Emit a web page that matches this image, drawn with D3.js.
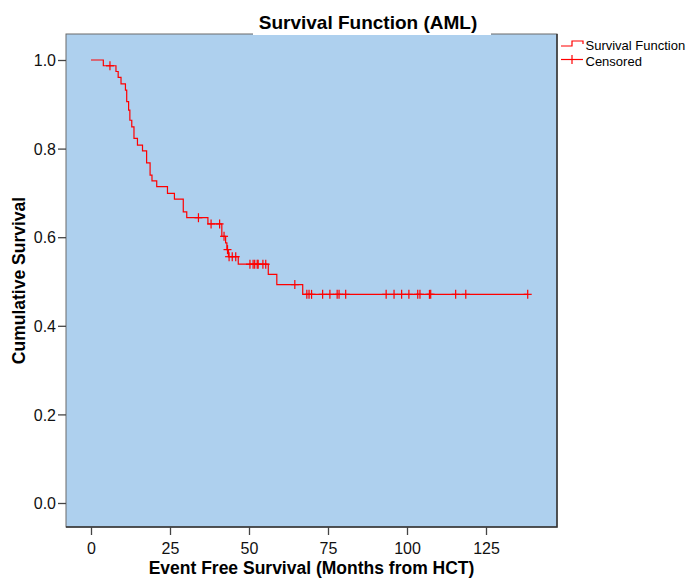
<!DOCTYPE html>
<html>
<head>
<meta charset="utf-8">
<script src="https://cdn.jsdelivr.net/npm/d3@7/dist/d3.min.js"></script>
<style>
  html, body { margin: 0; padding: 0; background: #fff; }
  svg { display: block; font-family: "Liberation Sans", Arial, sans-serif; }
</style>
</head>
<body>
<svg id="chart" width="691" height="579"></svg>
<script>
// Kaplan-Meier step data (event times in months, survival after each step)
const stepTimes = [0, 3.9, 7.9, 8.6, 9.5, 10.9, 11.3, 11.9, 12.3, 12.9, 13.6, 14.7, 16.3, 17.6, 18.7, 19.3, 20.8, 24.2, 26.4, 29.2, 30.3, 37.0, 41.4, 42.6, 43.0, 43.5, 46.6, 56.1, 58.8, 67.0];
const stepSurv  = [1.0, 0.987, 0.974, 0.961, 0.946, 0.932, 0.906, 0.887, 0.864, 0.849, 0.823, 0.808, 0.795, 0.768, 0.740, 0.727, 0.714, 0.699, 0.686, 0.657, 0.644, 0.630, 0.602, 0.587, 0.572, 0.556, 0.539, 0.516, 0.493, 0.471];
// Censored observation times (months)
const censorTimes = [6.0, 34.0, 38.0, 40.7, 42.1, 43.2, 43.7, 44.7, 45.8, 50.3, 51.3, 51.8, 52.6, 52.9, 54.4, 55.3, 64.5, 68.3, 69.0, 69.8, 73.3, 75.6, 77.9, 78.5, 80.6, 93.4, 95.9, 98.3, 100.6, 103.4, 104.1, 107.1, 107.5, 115.4, 118.6, 138.2];
const xTicks = [0, 25, 50, 75, 100, 125];
const yTicks = [0.0, 0.2, 0.4, 0.6, 0.8, 1.0];
const titleText = "Survival Function (AML)";
const xLabel = "Event Free Survival (Months from HCT)";
const yLabel = "Cumulative Survival";
const legendItems = ["Survival Function", "Censored"];

const svg = d3.select("#chart");
const frame = {left: 66, top: 34, right: 557, bottom: 527};
const x = d3.scaleLinear().domain([0, 125]).range([91, 486]);
const y = d3.scaleLinear().domain([0, 1]).range([503, 60]);
const red = "#ff0000";

// plot background
svg.append("rect")
  .attr("x", frame.left).attr("y", frame.top)
  .attr("width", frame.right - frame.left).attr("height", frame.bottom - frame.top)
  .attr("fill", "#aed0ee").attr("stroke", "#6a6a6a").attr("stroke-width", 1);
svg.append("path")
  .attr("d", `M${frame.right},${frame.top} V${frame.bottom} H${frame.left}`)
  .attr("fill", "none").attr("stroke", "#333").attr("stroke-width", 1.5);

// survival function
function survAt(t) {
  let s = stepSurv[0];
  for (let i = 0; i < stepTimes.length; i++) if (stepTimes[i] <= t) s = stepSurv[i];
  return s;
}
const lastT = d3.max(censorTimes);
const pts = stepTimes.map((t, i) => [t, stepSurv[i]]);
pts.push([lastT, survAt(lastT)]);
const line = d3.line().x(d => x(d[0])).y(d => y(d[1])).curve(d3.curveStepAfter);
svg.append("path").datum(pts)
  .attr("d", line).attr("fill", "none").attr("stroke", red).attr("stroke-width", 1.2);

// censor marks
const cg = svg.append("g").attr("stroke", red).attr("stroke-width", 1.2);
censorTimes.forEach(t => {
  const cx = x(t), cy = y(survAt(t));
  cg.append("line").attr("x1", cx).attr("x2", cx).attr("y1", cy - 4.5).attr("y2", cy + 4.5);
  cg.append("line").attr("x1", cx - 4).attr("x2", cx + 4).attr("y1", cy).attr("y2", cy);
});

// axes
const xAxis = svg.append("g").attr("transform", `translate(0,${frame.bottom})`)
  .call(d3.axisBottom(x).tickValues(xTicks).tickSize(8).tickPadding(6).tickFormat(d3.format("d")));
xAxis.select(".domain").remove();
const yAxis = svg.append("g").attr("transform", `translate(${frame.left},0)`)
  .call(d3.axisLeft(y).tickValues(yTicks).tickSize(8).tickPadding(2).tickFormat(d3.format(".1f")));
yAxis.select(".domain").remove();
svg.selectAll(".tick line").attr("stroke", "#444").attr("stroke-width", 1.3);
svg.selectAll(".tick text").attr("fill", "#111").style("font-size", "16px")
  .style("font-family", "'Liberation Sans', Arial, sans-serif");
xAxis.selectAll(".tick text").attr("dy", null).attr("y", 26.5);
yAxis.selectAll(".tick text").attr("dy", "0.36em");

// title with white backing
svg.append("rect").attr("x", 253).attr("y", 0).attr("width", 238).attr("height", frame.top + 1).attr("fill", "#fff");
svg.append("text").attr("x", 368).attr("y", 29).attr("text-anchor", "middle")
  .style("font-size", "19px").style("font-weight", "bold").attr("fill", "#000").text(titleText);

// axis labels
svg.append("text").attr("x", (frame.left + frame.right) / 2).attr("y", 574).attr("text-anchor", "middle")
  .style("font-size", "17.5px").style("font-weight", "bold").attr("fill", "#000").text(xLabel);
svg.append("text").attr("transform", `translate(25,${(frame.top + frame.bottom) / 2}) rotate(-90)`)
  .attr("text-anchor", "middle")
  .style("font-size", "17.5px").style("font-weight", "bold").attr("fill", "#000").text(yLabel);

// legend
const lg = svg.append("g");
lg.append("path").attr("d", "M561,46 H572 V41 H583 V44").attr("fill", "none").attr("stroke", red).attr("stroke-width", 1.2);
lg.append("line").attr("x1", 561).attr("x2", 583).attr("y1", 59.5).attr("y2", 59.5).attr("stroke", red).attr("stroke-width", 1.2);
lg.append("line").attr("x1", 572).attr("x2", 572).attr("y1", 55).attr("y2", 64).attr("stroke", red).attr("stroke-width", 1.2);
lg.selectAll("text.leg").data(legendItems).join("text").attr("class", "leg")
  .attr("x", 585.5).attr("y", (d, i) => 50 + i * 15.5)
  .style("font-size", "13px").attr("fill", "#000").text(d => d);
</script>
</body>
</html>
